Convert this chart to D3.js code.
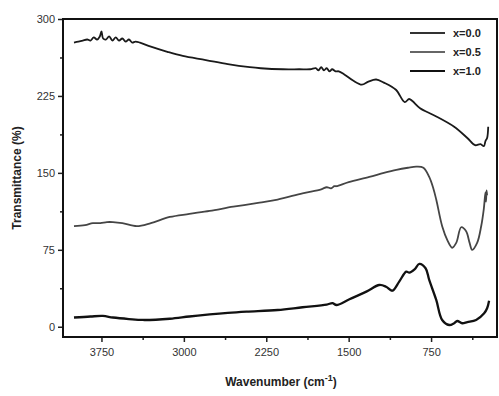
<!DOCTYPE html>
<html>
<head>
<meta charset="utf-8">
<script src="https://cdnjs.cloudflare.com/ajax/libs/d3/7.8.5/d3.min.js"></script>
<style>
    body { margin: 0; background: #fff; }
    svg { display: block; font-family: Arial, "Liberation Sans", sans-serif; }
</style>
</head>
<body>
<div class="ftir-chart"></div>
<script>
// wavenumber (cm-1) / transmittance (%)
var waveA = [4000, 3960, 3920, 3880, 3850, 3820, 3790, 3765, 3750, 3735, 3710, 3680, 3650, 3620, 3590, 3560, 3530, 3500, 3470, 3440, 3400, 3300, 3150, 3010, 2800, 2600, 2400, 2300, 2100, 1950, 1850, 1800, 1775, 1750, 1725, 1700, 1675, 1650, 1620, 1590, 1540, 1460, 1380, 1320, 1250, 1180, 1070, 990, 950, 920, 850, 720, 540, 420, 350, 300, 270, 255, 240, 230];
var transA = [277, 278, 279, 280, 279, 282, 280, 283, 288, 281, 280, 283, 279, 282, 279, 281, 278, 280, 277, 278, 277, 273, 268, 264, 260, 256, 253, 252, 251, 251, 251, 252, 250, 253, 250, 252, 249, 251, 249, 249, 246, 240, 236, 239, 241, 238, 231, 219, 222, 220, 213, 206, 195, 184, 177, 178, 176, 181, 184, 195];

var waveB = [4000, 3900, 3828, 3760, 3700, 3646, 3560, 3428, 3300, 3128, 2950, 2765, 2550, 2311, 2147, 1920, 1750, 1700, 1660, 1630, 1611, 1500, 1312, 1180, 1066, 960, 885, 820, 767, 730, 703, 649, 600, 558, 520, 476, 431, 400, 376, 330, 294, 270, 255, 250, 245, 240];
var transB = [98, 99, 101, 101, 102, 102, 101, 98, 101, 107, 110, 113, 117, 121, 124, 130, 134, 136, 135, 137, 137, 141, 146, 150, 153, 155, 156, 155, 146, 135, 124, 98, 84, 77, 82, 97, 93, 82, 75, 82, 98, 115, 131, 122, 133, 128];

var waveC = [4000, 3850, 3737, 3646, 3500, 3373, 3128, 2950, 2765, 2600, 2429, 2147, 1920, 1700, 1648, 1611, 1493, 1339, 1221, 1160, 1103, 1040, 976, 948, 900, 857, 800, 767, 703, 649, 585, 540, 512, 467, 420, 340, 267, 240, 222];
var transC = [9, 10, 10.5, 9, 7.5, 6.6, 7.8, 10, 12, 13.5, 14.7, 16.3, 19, 21.5, 23, 21.2, 26.8, 34.2, 40.7, 39, 35.1, 44, 53.7, 52.7, 56, 61.2, 57, 45.6, 26.1, 6.6, 1.7, 3.5, 5.6, 3.4, 4.5, 6.6, 13.1, 18, 25.4];

var seriesNames = ["x=0.0", "x=0.5", "x=1.0"];
var xTicks = [3750, 3000, 2250, 1500, 750];
var xMinorTicks = [3375, 2625, 1875, 1125, 375];
var yTicks = [0, 75, 150, 225, 300];
var yMinorTicks = [37.5, 112.5, 187.5, 262.5];

var width = 499, height = 396;
var margin = { top: 19, right: 2, bottom: 59, left: 63 };

var svg = d3.select('.ftir-chart')
    .append('svg')
    .attr('width', width)
    .attr('height', height);

var x = d3.scaleLinear().domain([4100, 150]).range([margin.left, width - margin.right]);
var y = d3.scaleLinear().domain([-10, 300]).range([height - margin.bottom, margin.top]);

var plotBottom = height - margin.bottom;
var plotRight = width - margin.right;

// axes
svg.append('g')
    .attr('transform', 'translate(0,' + plotBottom + ')')
    .call(d3.axisBottom(x).tickValues(xTicks).tickFormat(d3.format('d')).tickSize(5).tickPadding(6));
svg.append('g')
    .attr('transform', 'translate(0,' + plotBottom + ')')
    .call(d3.axisBottom(x).tickValues(xMinorTicks).tickSize(3).tickFormat(''));

svg.append('g')
    .attr('transform', 'translate(' + margin.left + ',0)')
    .call(d3.axisLeft(y).tickValues(yTicks).tickFormat(d3.format('d')).tickSize(5).tickPadding(3));
svg.append('g')
    .attr('transform', 'translate(' + margin.left + ',0)')
    .call(d3.axisLeft(y).tickValues(yMinorTicks).tickSize(3).tickFormat(''));

svg.selectAll('.domain').remove();
svg.selectAll('.tick line').attr('stroke', '#222').attr('stroke-width', 1.5);
svg.selectAll('.tick text')
    .attr('fill', '#333')
    .style('font-size', '11px');

// frame
svg.append('rect')
    .attr('x', margin.left)
    .attr('y', margin.top)
    .attr('width', plotRight - margin.left)
    .attr('height', plotBottom - margin.top)
    .attr('fill', 'none')
    .attr('stroke', '#111')
    .attr('stroke-width', 2);

// curves
var line = d3.line()
    .x(function (d) { return x(d[0]); })
    .y(function (d) { return y(d[1]); })
    .curve(d3.curveCatmullRom);

var curves = [
    { w: waveA, t: transA, color: '#1a1a1a', sw: 1.8 },
    { w: waveB, t: transB, color: '#454545', sw: 1.8 },
    { w: waveC, t: transC, color: '#111', sw: 2.3 }
];

curves.forEach(function (c) {
    svg.append('path')
        .datum(d3.zip(c.w, c.t))
        .attr('d', line)
        .attr('fill', 'none')
        .attr('stroke', c.color)
        .attr('stroke-width', c.sw)
        .attr('stroke-linejoin', 'round');
});

// legend
var legend = svg.append('g').attr('transform', 'translate(410,33)');
seriesNames.forEach(function (name, i) {
    var g = legend.append('g').attr('transform', 'translate(0,' + (i * 19) + ')');
    g.append('line')
        .attr('x1', 0).attr('x2', 35)
        .attr('stroke', ['#333', '#666', '#111'][i])
        .attr('stroke-width', 2.2);
    g.append('text')
        .attr('x', 43)
        .attr('y', 4)
        .attr('fill', '#222')
        .style('font-size', '11px')
        .style('font-weight', 'bold')
        .text(name);
});

// axis titles
svg.append('text')
    .attr('transform', 'translate(21,' + ((margin.top + plotBottom) / 2) + ') rotate(-90)')
    .attr('text-anchor', 'middle')
    .attr('fill', '#222')
    .style('font-size', '12px')
    .style('font-weight', 'bold')
    .text('Transmittance (%)');

var xt = svg.append('text')
    .attr('x', 281)
    .attr('y', 386)
    .attr('text-anchor', 'middle')
    .attr('fill', '#222')
    .style('font-size', '12px')
    .style('font-weight', 'bold');
xt.append('tspan').text('Wavenumber (cm');
xt.append('tspan').attr('dy', -5).style('font-size', '9px').text('-1');
xt.append('tspan').attr('dy', 5).text(')');
</script>
</body>
</html>
